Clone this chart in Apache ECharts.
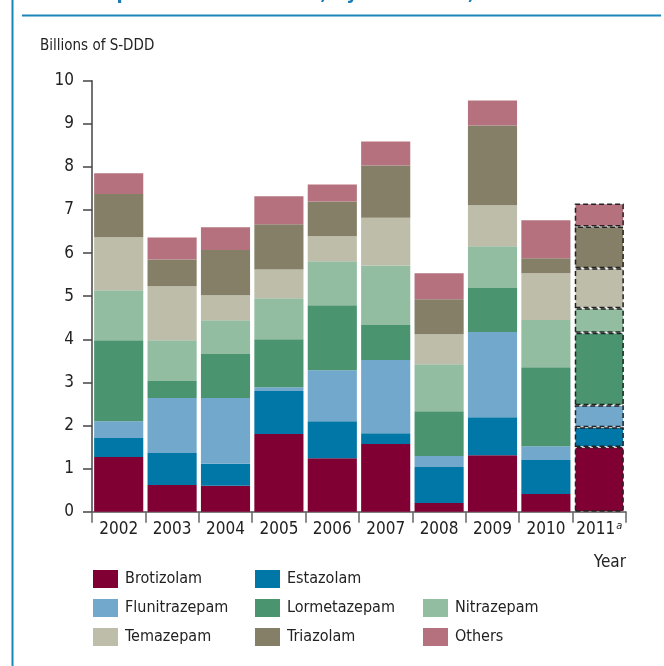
<!DOCTYPE html>
<html>
<head>
<meta charset="utf-8">
<script src="https://cdn.jsdelivr.net/npm/echarts@6/dist/echarts.min.js"></script>
<style>
html,body{margin:0;padding:0;background:#fff;}
#chart{width:664px;height:666px;}
</style>
</head>
<body>
<div id="chart"></div>
<script>
var years = ['2002','2003','2004','2005','2006','2007','2008','2009','2010','2011'];
var brotizolam    = [1.27, 0.62, 0.60, 1.80, 1.24, 1.57, 0.20, 1.31, 0.41, 1.50];
var estazolam     = [0.44, 0.74, 0.51, 1.00, 0.86, 0.25, 0.84, 0.88, 0.79, 0.46];
var flunitrazepam = [0.39, 1.28, 1.53, 0.09, 1.18, 1.70, 0.25, 1.98, 0.32, 0.51];
var lormetazepam  = [1.88, 0.39, 1.02, 1.11, 1.51, 0.81, 1.04, 1.02, 1.83, 1.68];
var nitrazepam    = [1.16, 0.95, 0.78, 0.95, 1.02, 1.38, 1.09, 0.97, 1.10, 0.57];
var temazepam     = [1.23, 1.25, 0.58, 0.67, 0.58, 1.11, 0.70, 0.95, 1.08, 0.93];
var triazolam     = [1.00, 0.62, 1.05, 1.05, 0.81, 1.21, 0.81, 1.85, 0.35, 0.97];
var others        = [0.48, 0.51, 0.53, 0.65, 0.39, 0.56, 0.60, 0.58, 0.88, 0.53];
var yTicks = [0,1,2,3,4,5,6,7,8,9,10];

var FONT = '"DejaVu Sans Condensed","Liberation Sans Narrow",sans-serif';
var seriesDefs = [
  ['Brotizolam', brotizolam, '#800033'],
  ['Estazolam', estazolam, '#0077A6'],
  ['Flunitrazepam', flunitrazepam, '#72A8CB'],
  ['Lormetazepam', lormetazepam, '#4A9470'],
  ['Nitrazepam', nitrazepam, '#93BDA0'],
  ['Temazepam', temazepam, '#BEBDA9'],
  ['Triazolam', triazolam, '#847F66'],
  ['Others', others, '#B5727E']
];
var lastIdx = years.length - 1;
var series = seriesDefs.map(function (d) {
  return {
    name: d[0], type: 'bar', stack: 'total', barCategoryGap: '8%',
    itemStyle: { color: d[2] },
    data: d[1].map(function (v, i) {
      if (i === lastIdx) {
        return { value: v, itemStyle: { borderColor: '#222', borderType: [5, 3], borderWidth: 1.5 } };
      }
      return v;
    })
  };
});

function legendCol(names, left, top) {
  return {
    orient: 'vertical', left: left, top: top, itemWidth: 25, itemHeight: 18, itemGap: 11,
    icon: 'rect', selectedMode: false,
    textStyle: { fontFamily: FONT, fontSize: 16, color: '#222', padding: [0, 0, 0, 2] },
    data: names
  };
}

var chart = echarts.init(document.getElementById('chart'), null, { renderer: 'canvas' });
chart.setOption({
  animation: false,
  backgroundColor: '#fff',
  grid: { left: 92, right: 38, top: 80.7, bottom: 154.3 },
  legend: [
    legendCol(['Brotizolam', 'Flunitrazepam', 'Temazepam'], 88, 565),
    legendCol(['Estazolam', 'Lormetazepam', 'Triazolam'], 250, 565),
    legendCol(['Nitrazepam', 'Others'], 418, 594)
  ],
  xAxis: {
    type: 'category', data: years,
    axisLine: { lineStyle: { color: '#555', width: 1.5 } },
    axisTick: { show: true, length: 11, alignWithLabel: false, lineStyle: { color: '#666', width: 1.5 } },
    axisLabel: {
      interval: 0,
      fontFamily: FONT, fontSize: 17, color: '#222', margin: 9,
      formatter: function (v, i) { return i === lastIdx ? v + '{sup|a}' : v; },
      rich: { sup: { fontFamily: FONT, fontSize: 11, fontStyle: 'italic', color: '#222', verticalAlign: 'top', padding: [0, 0, 7, 1] } }
    },
    name: 'Year', nameLocation: 'end', nameGap: 0,
    nameTextStyle: { fontFamily: FONT, fontSize: 17, color: '#222', align: 'right', verticalAlign: 'top', padding: [42, 0, 0, 0] }
  },
  yAxis: {
    type: 'value', min: 0, max: 10, interval: 1,
    axisLine: { show: true, lineStyle: { color: '#444', width: 1.5 } },
    axisTick: { show: true, length: 9, lineStyle: { color: '#444', width: 1.5 } },
    splitLine: { show: false },
    axisLabel: { fontFamily: FONT, fontSize: 17, color: '#222', margin: 18,
      formatter: function (v) { return yTicks.indexOf(v) >= 0 ? String(v) : ''; } }
  },
  graphic: [
    { type: 'line', shape: { x1: 12.5, y1: 0, x2: 12.5, y2: 666 }, style: { stroke: '#1B86B8', lineWidth: 2 } },
    { type: 'line', shape: { x1: 22, y1: 15.5, x2: 661, y2: 15.5 }, style: { stroke: '#1B86B8', lineWidth: 2 } },
    { type: 'text', x: 342, y: 4,
      style: { text: 'reported manufacture, by substance, 2002-2011', fill: '#1B7DB3',
        font: 'bold 20px ' + FONT, textAlign: 'center', textVerticalAlign: 'bottom' } },
    { type: 'text', x: 40, y: 46,
      style: { text: 'Billions of S-DDD', fill: '#222', font: '15px ' + FONT, textAlign: 'left', textVerticalAlign: 'middle' } }
  ],
  series: series
});
</script>
</body>
</html>
